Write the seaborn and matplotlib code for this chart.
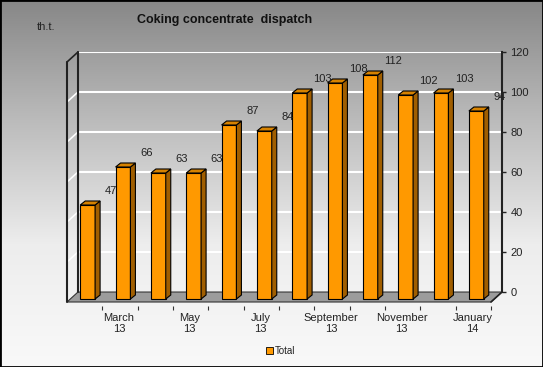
import numpy as np
import pandas as pd
import seaborn as sns
import matplotlib.pyplot as plt
from matplotlib import transforms
from matplotlib.patches import Polygon, Rectangle, Patch
from matplotlib.colors import LinearSegmentedColormap

months = ['February\n13', 'March\n13', 'April\n13', 'May\n13', 'June\n13', 'July\n13',
          'August\n13', 'September\n13', 'October\n13', 'November\n13', 'December\n13', 'January\n14']
shown_pos = [1, 3, 5, 7, 9, 11]
values = [47, 66, 63, 63, 87, 84, 103, 108, 112, 102, 103, 94]
yticks = [0, 20, 40, 60, 80, 100, 120]

sns.set_theme(style='white')
plt.rcParams['font.family'] = ['Liberation Sans', 'DejaVu Sans']

fig = plt.figure(figsize=(5.43, 3.67), dpi=100)

# grey gradient background + frame
bg = fig.add_axes([0, 0, 1, 1], zorder=-2)
cmap = LinearSegmentedColormap.from_list('bg', ['#878787', '#bcbcbc', '#ededed', '#f9f9f9'])
bg.imshow(np.linspace(0, 1, 256).reshape(-1, 1), aspect='auto', cmap=cmap,
          extent=[0, 1, 0, 1], origin='upper')
bg.add_patch(Rectangle((0, 0), 1, 1, fill=False, ec='black', lw=2, transform=bg.transAxes))
bg.set_axis_off()

ax = fig.add_axes([78 / 543, 75 / 367, 424 / 543, 240 / 367])
ax.patch.set_alpha(0)

df = pd.DataFrame({'month': months, 'value': values})
sns.barplot(data=df, x='month', y='value', color='#ff9900', saturation=1, width=0.42,
            edgecolor='black', linewidth=0.8, ax=ax, zorder=3)
ax.set_xlim(-0.5, 11.5)
ax.set_ylim(0, 120)

px = 1 / fig.dpi
front = ax.transData + transforms.ScaledTranslation(-8 * px, -7 * px, fig.dpi_scale_trans)
ddx, ddy = 5 / 35.33, 2.0  # bar depth in data units

for p in ax.patches:
    x0, w, h = p.get_x(), p.get_width(), p.get_height()
    x1 = x0 + w
    p.set_transform(front)
    p.set_clip_on(False)
    side = Polygon([(x1, 0), (x1 + ddx, ddy), (x1 + ddx, h + ddy), (x1, h)],
                   fc='#a05e00', ec='black', lw=0.8, transform=front, clip_on=False, zorder=3)
    top = Polygon([(x0, h), (x0 + ddx, h + ddy), (x1 + ddx, h + ddy), (x1, h)],
                  fc='#d68200', ec='black', lw=0.8, transform=front, clip_on=False, zorder=3)
    ax.add_patch(side)
    ax.add_patch(top)

for i, v in enumerate(values):
    ax.annotate(str(v), (i + 0.43, v), xytext=(0, 7), textcoords='offset pixels',
                ha='center', va='center', fontsize=8, color='#222222', zorder=5)

# floor and walls
fx, fy = -11 / 35.33, -5
ax.add_patch(Polygon([(-0.5, 0), (11.5, 0), (11.5 + fx, fy), (-0.5 + fx, fy)],
                     fc='#9c9c9c', ec='#333333', lw=0.8, clip_on=False, zorder=1))
ax.plot([-0.5, -0.5], [0, 120], color='#222222', lw=1.5, clip_on=False, zorder=2)
ax.plot([-0.5 + fx, -0.5 + fx], [fy, 120 + fy], color='#222222', lw=1.5, clip_on=False, zorder=2)
ax.plot([-0.5 + fx, -0.5], [120 + fy, 120], color='#222222', lw=1.2, clip_on=False, zorder=2)
for g in yticks[1:-1]:
    ax.plot([-0.5 + fx, -0.5], [g + fy, g], color='white', lw=1.2, clip_on=False, zorder=1)
ax.plot([11.5, 11.5 + fx], [0, fy], color='#222222', lw=1.2, clip_on=False, zorder=2)

ax.set_yticks(yticks)
ax.yaxis.tick_right()
ax.yaxis.grid(True, color='white', lw=1.5)
ax.set_axisbelow(True)
for s in ['left', 'top']:
    ax.spines[s].set_visible(False)
ax.spines['right'].set_color('#222222')
ax.spines['right'].set_linewidth(1.5)
ax.spines['bottom'].set_position(('outward', 10))
ax.spines['bottom'].set_visible(False)
ax.tick_params(axis='y', direction='out', length=3, width=1, color='#222222',
               labelsize=8, labelcolor='#222222', pad=3)

ax.set_xticks(shown_pos)
ax.set_xticklabels([months[i] for i in shown_pos], fontsize=8, color='#222222', linespacing=1.1)
ax.set_xticks(np.arange(12) + 0.5 + fx, minor=True)
ax.tick_params(axis='x', which='major', length=0, pad=5)
ax.tick_params(axis='x', which='minor', direction='out', length=3, width=0.8, color='#333333', bottom=True)
shift = transforms.ScaledTranslation(-12 * px, 0, fig.dpi_scale_trans)
for lab in ax.get_xticklabels():
    lab.set_transform(lab.get_transform() + shift)
ax.set_xlabel('')
ax.set_ylabel('')

fig.text(225 / 543, 1 - 20 / 367, 'Coking concentrate  dispatch', ha='center', va='center',
         fontsize=9, fontweight='bold', color='#111111')
fig.text(46 / 543, 1 - 27 / 367, 'th.t.', ha='center', va='center', fontsize=8, color='#222222')

fig.legend(handles=[Patch(fc='#ff9900', ec='black', lw=0.6, label='Total')],
           loc='center', bbox_to_anchor=(281 / 543, 1 - 351 / 367), frameon=False,
           fontsize=7, handlelength=0.7, handleheight=0.7, handletextpad=0.2,
           labelcolor='#222222')

fig.savefig('out.png', dpi=100)
